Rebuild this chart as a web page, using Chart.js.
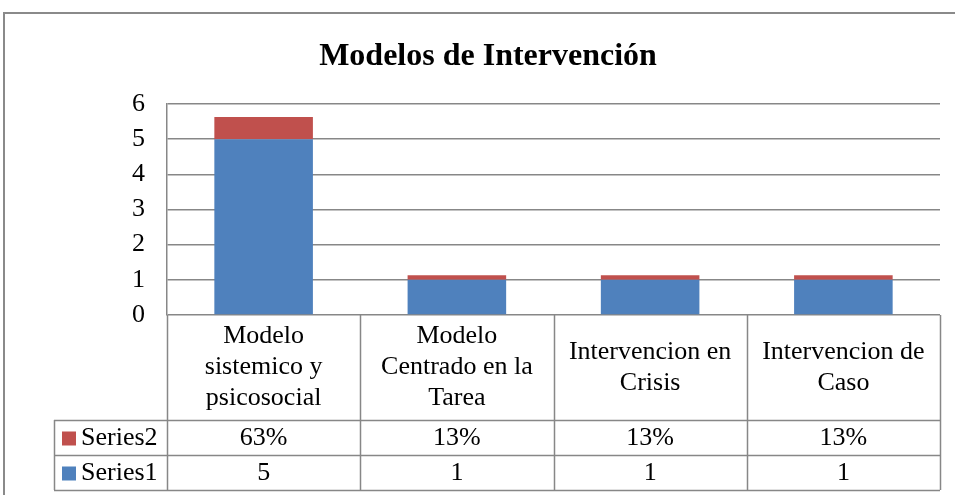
<!DOCTYPE html>
<html>
<head>
<meta charset="utf-8">
<script src="https://cdn.jsdelivr.net/npm/chart.js@4"></script>
<style>
html, body { margin: 0; padding: 0; background: #fff; overflow: hidden; }
#wrap { position: absolute; left: 0; top: 0; width: 977px; height: 495px; }
</style>
</head>
<body>
<div id="wrap"><canvas id="chartContainer" width="977" height="495"></canvas></div>
<script>
// chart data
const chartTitle = 'Modelos de Intervención';
const categories = [
    ['Modelo', 'sistemico y', 'psicosocial'],
    ['Modelo', 'Centrado en la', 'Tarea'],
    ['Intervencion en', 'Crisis'],
    ['Intervencion de', 'Caso']
];
const seriesNames = ['Series1', 'Series2'];
const series1 = [5, 1, 1, 1];
const series2 = [0.63, 0.13, 0.13, 0.13];
const yTicks = [0, 1, 2, 3, 4, 5, 6];

(function(){
    const FONT = '"Liberation Serif", serif';
    const GRID = '#878787';
    const BLUE = '#4F81BD';
    const RED = '#C0504D';

    const tablePlugin = {
        id: 'dataTable',
        afterDraw(chart){
            const c = chart.ctx;
            const area = chart.chartArea;
            const xs = chart.scales.x;
            const n = categories.length;
            const colW = (area.right - area.left) / n;
            const headBottom = 420, row2Bottom = 455, row1Bottom = 490;
            const tableLeft = 54;
            c.save();

            // outer frame of the chart object
            c.strokeStyle = '#8a8a8a';
            c.lineWidth = 2;
            c.beginPath();
            c.moveTo(4, 495); c.lineTo(4, 13); c.lineTo(977, 13);
            c.stroke();

            // title
            c.fillStyle = '#000';
            c.font = 'bold 32px ' + FONT;
            c.textAlign = 'center';
            c.textBaseline = 'middle';
            c.fillText(chartTitle, 488, 57);

            // table grid
            c.strokeStyle = GRID;
            c.lineWidth = 1.5;
            c.beginPath();
            for(let i = 0; i <= n; i++){
                const x = Math.round(area.left + i * colW) + 0.5;
                c.moveTo(x, area.bottom); c.lineTo(x, row1Bottom);
            }
            [headBottom, row2Bottom, row1Bottom].forEach(y => {
                c.moveTo(tableLeft, y + 0.5); c.lineTo(area.right, y + 0.5);
            });
            c.moveTo(tableLeft + 0.5, headBottom); c.lineTo(tableLeft + 0.5, row1Bottom);
            c.stroke();

            // header labels
            c.fillStyle = '#000';
            c.font = '26px ' + FONT;
            const lh = 31;
            const headMid = (area.bottom + headBottom) / 2;
            categories.forEach((lines, i) => {
                const cx = xs.getPixelForValue(i);
                const y0 = headMid - (lines.length - 1) * lh / 2;
                lines.forEach((t, k) => c.fillText(t, cx, y0 + k * lh));
            });

            // data rows
            const rows = [
                {name: seriesNames[1], color: RED, vals: series2.map(v => Math.round(v * 100) + '%'), y: (headBottom + row2Bottom) / 2 + 1},
                {name: seriesNames[0], color: BLUE, vals: series1.map(v => String(v)), y: (row2Bottom + row1Bottom) / 2 + 1}
            ];
            rows.forEach(r => {
                r.vals.forEach((t, i) => {
                    c.textAlign = 'center';
                    c.fillText(t, xs.getPixelForValue(i), r.y);
                });
                c.fillStyle = r.color;
                c.fillRect(62, r.y - 7, 14, 14);
                c.fillStyle = '#000';
                c.textAlign = 'left';
                c.fillText(r.name, 81, r.y);
            });
            c.restore();
        }
    };

    const ctx = document.getElementById('chartContainer').getContext('2d');
    new Chart(ctx, {
        type: 'bar',
        data: {
            labels: categories,
            datasets: [
                {label: seriesNames[0], data: series1, backgroundColor: BLUE},
                {label: seriesNames[1], data: series2, backgroundColor: RED}
            ]
        },
        options: {
            responsive: false,
            animation: false,
            events: [],
            layout: {padding: {top: 104, bottom: 180, left: 0, right: 37}},
            plugins: {legend: {display: false}, title: {display: false}, tooltip: {enabled: false}},
            datasets: {bar: {categoryPercentage: 1, barPercentage: 0.51}},
            scales: {
                x: {stacked: true, display: false},
                y: {
                    stacked: true,
                    min: yTicks[0],
                    max: yTicks[yTicks.length - 1],
                    afterBuildTicks(s){ s.ticks = yTicks.map(v => ({value: v})); },
                    afterFit(s){ s.width = 167; },
                    grid: {color: GRID, lineWidth: 1.5, drawTicks: false},
                    border: {color: GRID, width: 1.5},
                    ticks: {padding: 22, color: '#000', font: {family: '"Liberation Serif", serif', size: 26}}
                }
            }
        },
        plugins: [tablePlugin]
    });
})();
</script>
</body>
</html>
